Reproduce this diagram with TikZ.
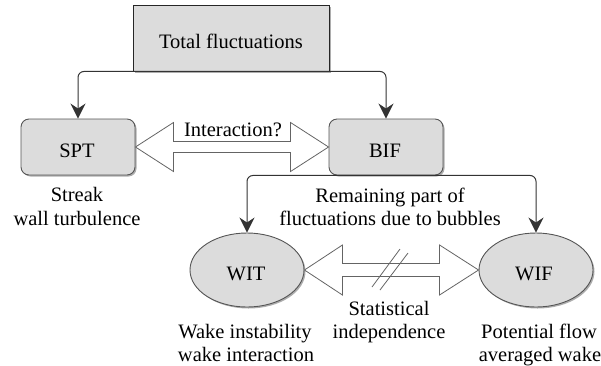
\documentclass[tikz,border=0pt]{standalone}
\usepackage{fontspec}
\setmainfont{Liberation Serif}
\newfontfamily\lserif{Liberation Serif}
\usetikzlibrary{arrows.meta,shadows,shapes.geometric,calc}
\definecolor{boxfill}{RGB}{220,220,220}
\definecolor{linec}{RGB}{51,51,51}
\definecolor{edgec}{RGB}{85,85,85}
\definecolor{arrowc}{RGB}{100,100,100}
\tikzset{
  txt/.style={font=\lserif\fontsize{20.5}{23.5}\selectfont, inner sep=0pt, anchor=base},
  shad/.style={drop shadow={shadow xshift=1.5pt, shadow yshift=-1.5pt, fill=black!40, opacity=0.8}},
  sqbox/.style={draw=black!85, fill=boxfill, line width=0.9pt, shad, minimum width=196pt, minimum height=66pt, inner sep=0pt},
  rbox/.style={draw=edgec, fill=boxfill, line width=0.9pt, rounded corners=8pt, shad, minimum width=114pt, minimum height=56pt, inner sep=0pt},
  ebox/.style={ellipse, draw=edgec, fill=boxfill, line width=0.9pt, shad, minimum width=114pt, minimum height=74pt, inner sep=0pt},
  conn/.style={draw=linec, line width=1pt, rounded corners=6pt, -{Stealth[length=15pt,width=15pt,inset=5pt]}},
  darrow/.style={draw=arrowc, fill=white, line width=0.8pt, line join=miter},
  slash/.style={draw=arrowc, line width=0.8pt}
}
\begin{document}
\begin{tikzpicture}[x=1pt,y=-1pt]
\useasboundingbox (0,0) rectangle (601,365);
% nodes
\node[sqbox] (tot) at (231,38) {};
\node[rbox] (spt) at (78,147) {};
\node[rbox] (bif) at (386,147) {};
\node[ebox] (wit) at (247,270) {};
\node[ebox] (wif) at (536,270) {};
% labels inside
\node[txt] (totl) at (231,48) {Total fluctuations};
\node[txt] (sptl) at (77,157) {SPT};
\node[txt] (bifl) at (385,157) {BIF};
\node[txt] (witl) at (246,280) {WIT};
\node[txt] (wifl) at (534,280) {WIF};
% connectors
\draw[conn] (tot.south) -| (spt.north);
\draw[conn] (tot.south) -| (bif.north);
\draw[conn] (bif.south) -| (wit.north);
\draw[conn] (bif.south) -| (wif.north);
% double arrow SPT <-> BIF
\draw[darrow] (spt.east) -- ($(spt.east)+(38,-24.5)$) -- ($(spt.east)+(38,-5.5)$)
  -- ($(bif.west)+(-38,-5.5)$) -- ($(bif.west)+(-38,-24.5)$) -- (bif.west)
  -- ($(bif.west)+(-38,24.5)$) -- ($(bif.west)+(-38,5.5)$)
  -- ($(spt.east)+(38,5.5)$) -- ($(spt.east)+(38,24.5)$) -- cycle;
% double arrow WIT <-> WIF
\draw[darrow] (wit.east) -- ($(wit.east)+(38,-25)$) -- ($(wit.east)+(38,-6.5)$)
  -- ($(wif.west)+(-39,-6.5)$) -- ($(wif.west)+(-39,-25)$) -- (wif.west)
  -- ($(wif.west)+(-39,25)$) -- ($(wif.west)+(-39,6.5)$)
  -- ($(wit.east)+(38,6.5)$) -- ($(wit.east)+(38,25)$) -- cycle;
% slashes
\draw[slash] (372,287) -- (400,249);
\draw[slash] (380,290) -- (408,253);
% texts
\node[txt] (inter) at (233,136) {Interaction?};
\node[txt] (str1) at (77,201) {Streak};
\node[txt] (str2) at (77,225) {wall turbulence};
\node[txt] (rem1) at (390,202) {Remaining part of};
\node[txt] (rem2) at (390,225) {fluctuations due to bubbles};
\node[txt] (sta1) at (389,315) {Statistical};
\node[txt] (sta2) at (389,338) {independence};
\node[txt] (wak1) at (245,338) {Wake instability};
\node[txt] (wak2) at (246,361) {wake interaction};
\node[txt] (pot1) at (539,338) {Potential flow};
\node[txt] (pot2) at (540,361) {averaged wake};
\end{tikzpicture}
\end{document}
